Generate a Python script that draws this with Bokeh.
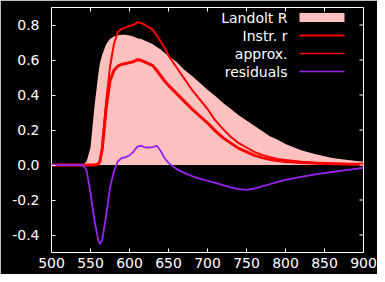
from bokeh.plotting import figure
from bokeh.models import (FixedTicker, Range1d, Label, BoxAnnotation,
                          Arrow, ColumnDataSource)
from bokeh.embed import file_html
from bokeh.resources import INLINE

# ---- data ----
WAVELENGTH = [500, 520, 540, 545, 550, 555, 560, 562, 565, 570,
              575, 580, 585, 590, 595, 600, 605, 610, 615, 620, 625, 630, 635, 640, 645, 650,
              660, 670, 680, 690, 700, 710, 720, 730, 740, 750, 760, 770, 780, 790, 800,
              820, 840, 860, 880, 900]
LANDOLT_R = [0, 0, 0.0, 0.02, 0.10, 0.33, 0.52, 0.58, 0.63, 0.69,
             0.72, 0.735, 0.742, 0.745, 0.745, 0.74, 0.735, 0.725, 0.72, 0.71, 0.70, 0.69, 0.675, 0.66, 0.64, 0.625,
             0.59, 0.545, 0.51, 0.47, 0.43, 0.395, 0.355, 0.32, 0.285, 0.255, 0.225, 0.195, 0.165, 0.145, 0.12,
             0.085, 0.06, 0.04, 0.028, 0.019]
INSTR_R = [0, 0, 0, 0, 0, 0.0, 0.005, 0.02, 0.09, 0.32,
           0.48, 0.54, 0.565, 0.575, 0.58, 0.585, 0.59, 0.602, 0.598, 0.588, 0.578, 0.568, 0.54, 0.51, 0.48, 0.455,
           0.41, 0.365, 0.32, 0.28, 0.24, 0.195, 0.155, 0.125, 0.095, 0.075, 0.055, 0.042, 0.032, 0.025, 0.02,
           0.014, 0.01, 0.007, 0.005, 0.004]
APPROX = [0, 0, 0, 0, 0, 0, 0.005, 0.02, 0.10, 0.36,
          0.56, 0.69, 0.76, 0.778, 0.785, 0.795, 0.80, 0.815, 0.812, 0.80, 0.787, 0.772, 0.74, 0.705, 0.67, 0.625,
          0.56, 0.495, 0.43, 0.375, 0.32, 0.255, 0.205, 0.16, 0.125, 0.10, 0.075, 0.058, 0.045, 0.035, 0.028,
          0.018, 0.012, 0.008, 0.006, 0.004]
RESIDUALS = [0, 0, 0, -0.03, -0.16, -0.315, -0.43, -0.45, -0.43, -0.29,
             -0.13, -0.035, 0.02, 0.04, 0.045, 0.055, 0.075, 0.105, 0.11, 0.10, 0.10, 0.102, 0.11, 0.08, 0.04, 0.012,
             -0.022, -0.045, -0.063, -0.078, -0.09, -0.102, -0.115, -0.128, -0.138, -0.142, -0.135, -0.122, -0.11, -0.097, -0.085,
             -0.068, -0.052, -0.04, -0.028, -0.017]

X_TICKS = [500, 550, 600, 650, 700, 750, 800, 850, 900]
X_LABELS = ["500", "550", "600", "650", "700", "750", "800", "850", "900"]
Y_TICKS = [-0.4, -0.2, 0.0, 0.2, 0.4, 0.6, 0.8]
Y_LABELS = ["-0.4", "-0.2", "0.0", "0.2", "0.4", "0.6", "0.8"]

SERIES_NAMES = ["Landolt R", "Instr. r", "approx.", "residuals"]

# ---- layout / styles ----
X0, X1 = 500, 900
Y0, Y1 = -0.5, 0.9
W, H = 377, 274
B_LEFT, B_RIGHT, B_TOP, B_BOTTOM = 51, 14, 7, 22
FRAME_W = W - B_LEFT - B_RIGHT
FRAME_H = H - B_TOP - B_BOTTOM
PX_X = (X1 - X0) / FRAME_W      # data units per pixel
PX_Y = (Y1 - Y0) / FRAME_H
TICK_LEN = 4

FONT = "DejaVu Sans"
FS = "14px"
PINK = "#ffc0c0"
RED = "#ff0000"
PURPLE = "#9a22f0"

src = ColumnDataSource(dict(wl=WAVELENGTH, landolt=LANDOLT_R, instr=INSTR_R,
                            approx=APPROX, resid=RESIDUALS,
                            zero=[0] * len(WAVELENGTH)))

p = figure(width=W, height=H, x_range=Range1d(X0, X1), y_range=Range1d(Y0, Y1),
           output_backend="svg", toolbar_location=None,
           min_border_left=B_LEFT, min_border_right=B_RIGHT,
           min_border_top=B_TOP, min_border_bottom=B_BOTTOM,
           background_fill_color="black", border_fill_color="black",
           outline_line_color="white", outline_line_width=1)
p.grid.visible = False

p.varea(x="wl", y1="zero", y2="landolt", source=src, fill_color=PINK, fill_alpha=1)
p.line(x="wl", y="instr", source=src, line_color=RED, line_width=3, line_join="round")
p.line(x="wl", y="approx", source=src, line_color=RED, line_width=2, line_join="round")
p.line(x="wl", y="resid", source=src, line_color=PURPLE, line_width=1.8, line_join="round")


def style_axis(ax, ticks, labels, standoff):
    ax.ticker = FixedTicker(ticks=ticks)
    ax.major_label_overrides = {t: l for t, l in zip(ticks, labels)}
    ax.axis_line_color = None
    ax.major_tick_in = TICK_LEN
    ax.major_tick_out = 0
    ax.minor_tick_in = 0
    ax.minor_tick_out = 0
    ax.major_tick_line_color = "white"
    ax.major_tick_line_width = 1
    ax.major_label_text_color = "white"
    ax.major_label_text_font = FONT
    ax.major_label_text_font_style = "normal"
    ax.major_label_standoff = standoff
    ax.major_label_text_font_size = FS


style_axis(p.xaxis[0], X_TICKS, X_LABELS, 5)
style_axis(p.yaxis[0], Y_TICKS, Y_LABELS, 12)

# mirrored inward ticks on the top and right frame edges (gnuplot "mirror")
p.segment(x0=X_TICKS, y0=[Y1] * len(X_TICKS), x1=X_TICKS,
          y1=[Y1 - TICK_LEN * PX_Y] * len(X_TICKS), line_color="white", line_width=1)
p.segment(x0=[X1] * len(Y_TICKS), y0=Y_TICKS, x1=[X1 - TICK_LEN * PX_X] * len(Y_TICKS),
          y1=Y_TICKS, line_color="white", line_width=1)

# ---- legend (gnuplot style: text right-aligned, sample to its right) ----
LEG_TEXT_RIGHT_PX = 76     # from frame right edge
LEG_SAMPLE_PX = (64, 19)   # sample start / end, from frame right edge
LEG_ROW_PX = [10, 28, 46, 64]  # from frame top
LEG_BOX_HALF_PX = 4.5

leg_text_x = X1 - LEG_TEXT_RIGHT_PX * PX_X
leg_s0 = X1 - LEG_SAMPLE_PX[0] * PX_X
leg_s1 = X1 - LEG_SAMPLE_PX[1] * PX_X
leg_rows = [Y1 - r * PX_Y for r in LEG_ROW_PX]

for name, yy in zip(SERIES_NAMES, leg_rows):
    p.add_layout(Label(x=leg_text_x, y=yy, text=name, text_align="right",
                       text_baseline="middle", text_color="white",
                       text_font=FONT, text_font_size=FS))

p.add_layout(BoxAnnotation(left=leg_s0, right=leg_s1,
                           bottom=leg_rows[0] - LEG_BOX_HALF_PX * PX_Y,
                           top=leg_rows[0] + LEG_BOX_HALF_PX * PX_Y,
                           fill_color=PINK, fill_alpha=1, line_color=None))
for yy, col, lw in zip(leg_rows[1:], [RED, RED, PURPLE], [2, 1.5, 1.5]):
    p.add_layout(Arrow(start=None, end=None, x_start=leg_s0, y_start=yy,
                       x_end=leg_s1, y_end=yy, line_color=col, line_width=lw))

open("out.html", "w").write(file_html(p, INLINE))
